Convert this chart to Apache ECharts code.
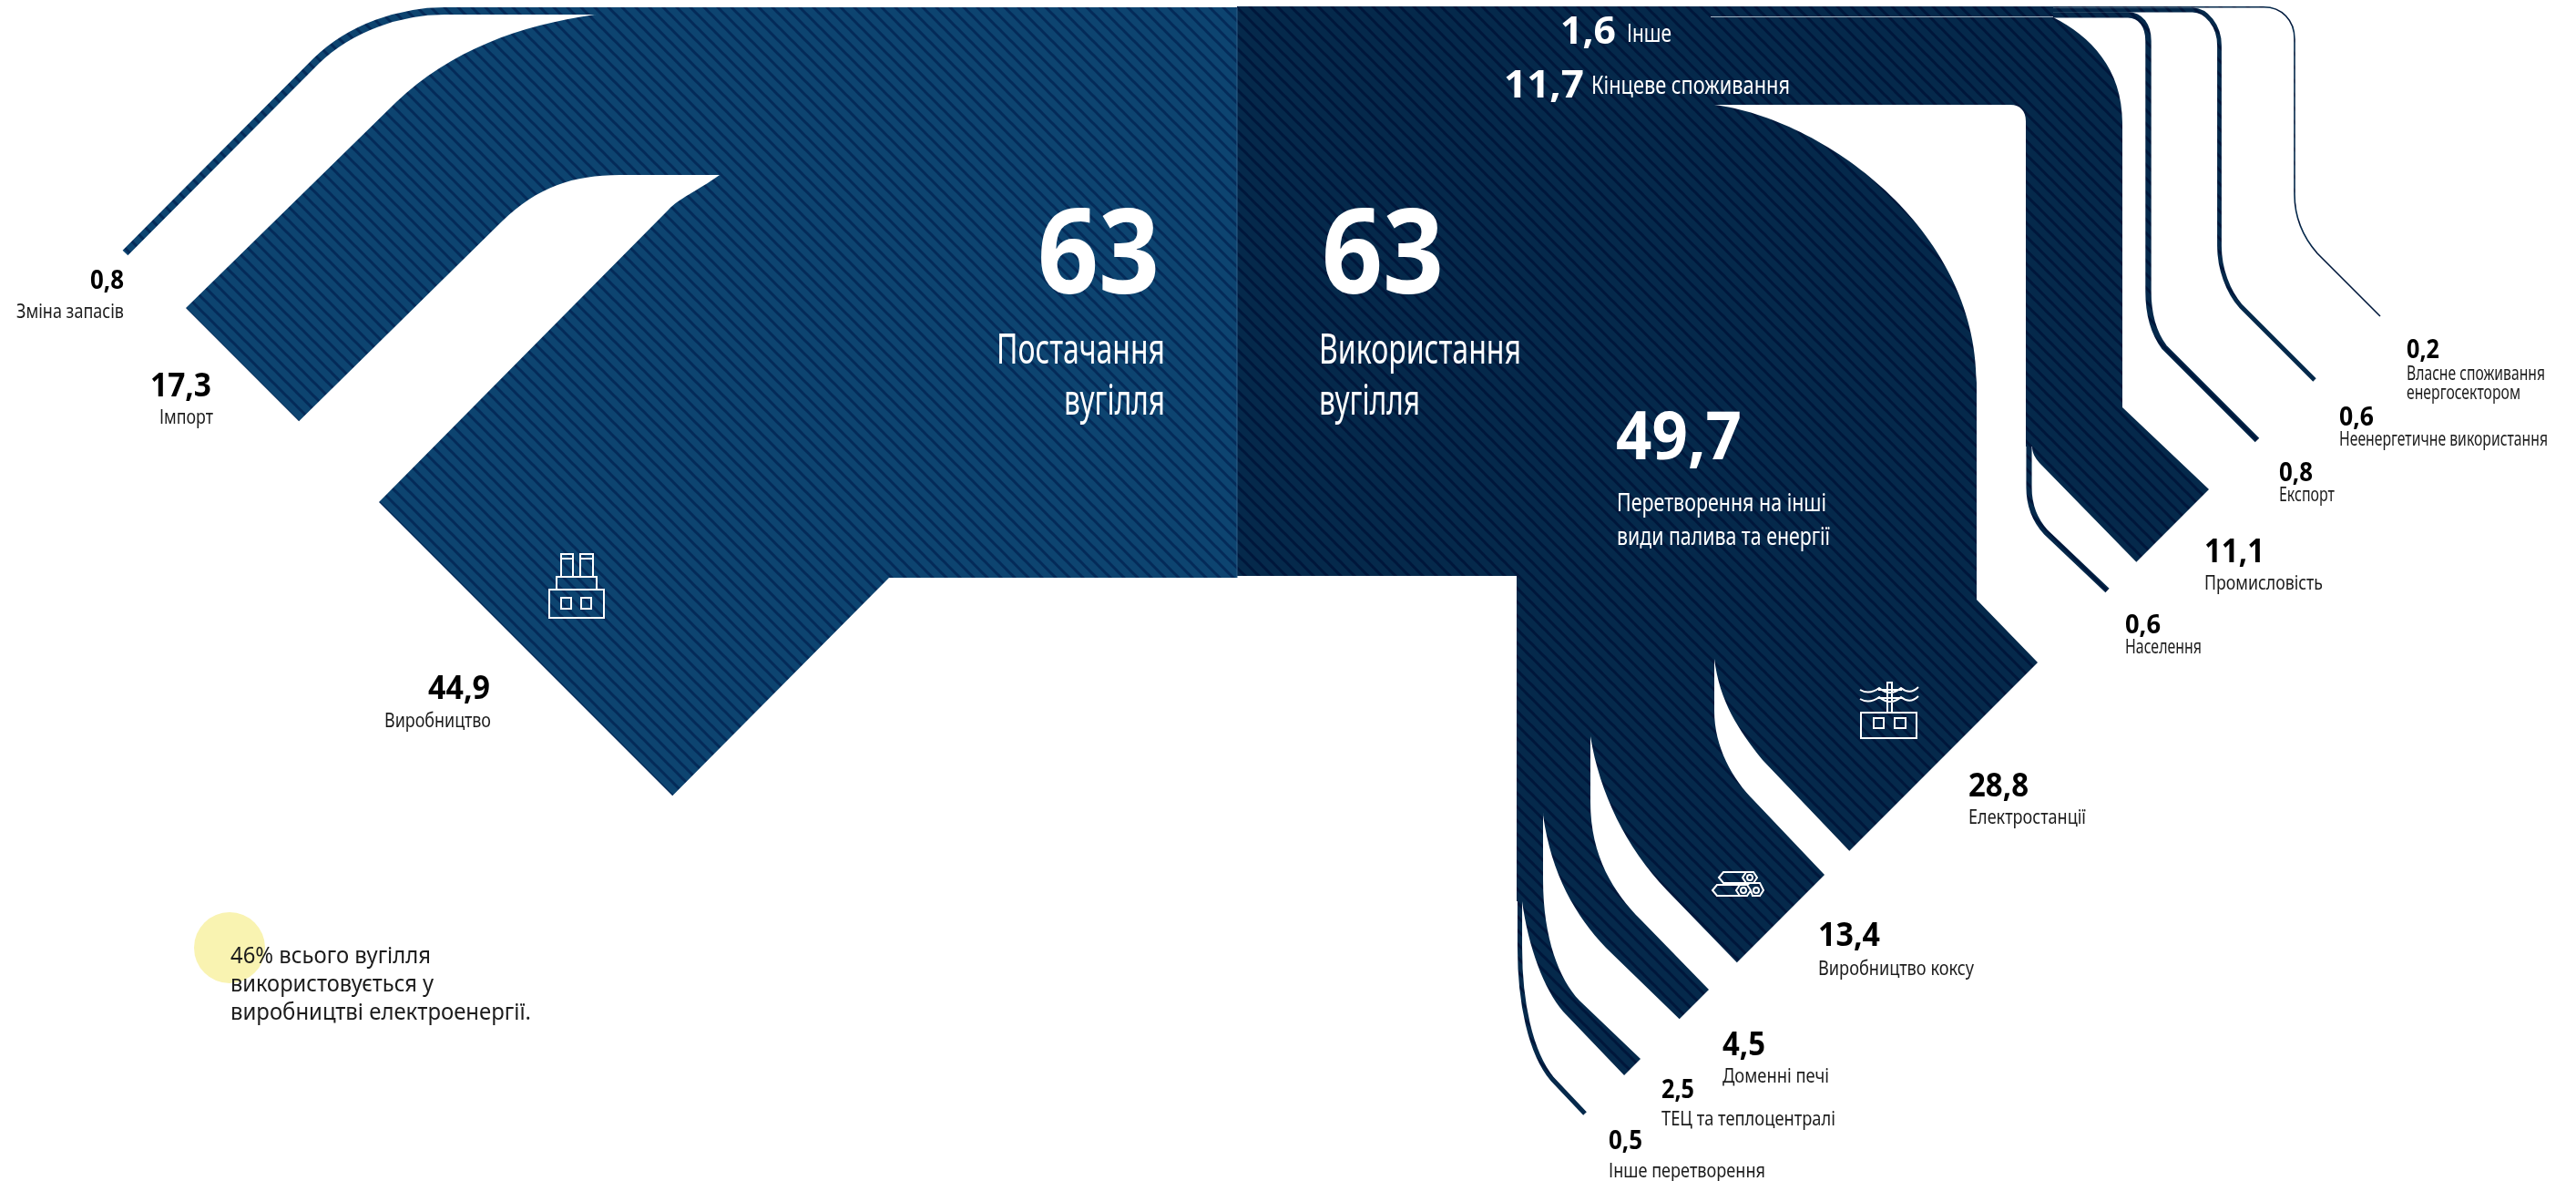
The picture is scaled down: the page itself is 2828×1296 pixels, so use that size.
<!DOCTYPE html>
<html>
<head>
<meta charset="utf-8">
<style>html,body{margin:0;padding:0;background:#fff}#c{width:2828px;height:1296px}</style>
<script src="https://cdn.jsdelivr.net/npm/echarts@6/dist/echarts.min.js"></script>
</head>
<body>
<div id="c"></div>
<script>
// ---------- DATA ----------
const totalNames = ['Постачання вугілля', 'Використання вугілля'];
const totalValues = [63, 63];
const supplyNames = ['Зміна запасів', 'Імпорт', 'Виробництво'];
const supplyValues = [0.8, 17.3, 44.9];
const useNames = ['Інше', 'Кінцеве споживання', 'Перетворення на інші види палива та енергії'];
const useValues = [1.6, 11.7, 49.7];
const otherNames = ['Власне споживання енергосектором', 'Неенергетичне використання', 'Експорт'];
const otherValues = [0.2, 0.6, 0.8];
const finalNames = ['Промисловість', 'Населення'];
const finalValues = [11.1, 0.6];
const conversionNames = ['Електростанції', 'Виробництво коксу', 'Доменні печі', 'ТЕЦ та теплоцентралі', 'Інше перетворення'];
const conversionValues = [28.8, 13.4, 4.5, 2.5, 0.5];
const noteLines = ['46% всього вугілля', 'використовується у', 'виробництві електроенергії.'];

// ---------- LAYOUT ----------
const UNIT = 10.15;      // axis units per data unit
const THIN_UNIT = 8;     // the three hair-line flows of "Інше"
const FONT = '"Noto Sans", "Open Sans", sans-serif';
const BLUE = ['#0d4470', '#042a58'];
const NAVY = ['#05294b', '#00163a'];

// Routes of the flows on hidden axes; CAP = butt end whose length comes from the value.
const ROUTES = {
  'Постачання вугілля': {side: 0, path: [['M',653,16],['L',653,8],['L',1358,8],['L',1358,634],['L',976,634],['L',790,192]]},
  'Зміна запасів': {side: 0, line: true, path: [['M',900,12],['L',488,12],['C',440,12,385,30,347,67],['L',137.5,277.5]]},
  'Імпорт': {side: 0, path: [['M',653,16],['C',570,28,495,55,435,112],['L',204,338],['CAP',1,1],['L',551,243],['C',590,205,630,192,680,192],['L',790,192],['L',900,100]]},
  'Виробництво': {side: 0, path: [['M',790,192],['C',765,210,745,218,734,230],['L',416,551],['CAP',1,1],['L',976,634],['L',1000,300]]},

  'Використання вугілля': {side: 1, path: [['M',1358,7],['L',1800,7],['L',1800,500],['L',1665,632],['L',1358,632]]},
  'Інше': {side: 1, path: [['M',1358,7],['L',2254,7],['L',2254,19],['L',1358,19]]},
  'Кінцеве споживання': {side: 1, path: [['M',1358,17],['L',1878,17],['L',1878,19],['L',2254,19],['C',2295,40,2330,75,2330,135],['L',2330,447],['L',2231,490],['L',2224,490],['L',2224,133],['C',2224,122,2218,115,2207,115],['L',1358,115]]},
  'Перетворення на інші види палива та енергії': {side: 1, path: [['M',1358,110],['L',1850,110],['L',1882,115],['C',2000,130,2170,250,2170,420],['L',2170,658],['L',1882,723],['L',1746,808],['L',1694,894],['L',1671,989],['L',1665,989],['L',1665,632],['L',1358,632]]},

  'Власне споживання енергосектором': {side: 1, line: true, thin: true, path: [['M',1900,7.8],['L',2485,7.8],['C',2505,7.8,2519,22,2519,43],['L',2519,213],['C',2519,240,2530,262,2544,278],['L',2613,347]]},
  'Неенергетичне використання': {side: 1, line: true, thin: true, path: [['M',1900,11],['L',2407,11],['C',2422,11,2436.5,28,2436.5,50],['L',2436.5,270],['C',2436.5,295,2446,320,2460,336],['L',2541,417]]},
  'Експорт': {side: 1, line: true, thin: true, path: [['M',1900,16.4],['L',2336,16.4],['C',2350,16.4,2358.5,28,2358.5,45],['L',2358.5,320],['C',2358.5,345,2364,365,2376,381],['L',2478,483]]},

  'Промисловість': {side: 1, path: [['M',2330,447],['L',2425,537],['CAP',-1,1],['L',2239,508],['C',2234,502,2231,497,2231,490],['L',2280,300]]},
  'Населення': {side: 1, line: true, path: [['M',2227.5,300],['L',2227.5,535],['C',2227.5,555,2235,572,2246,584],['L',2313.5,648]]},

  'Електростанції': {side: 1, path: [['M',2170,658],['L',2237,727],['CAP',-1,1],['L',1935,834],['C',1908,800,1888,770,1882,723],['L',1800,500]]},
  'Виробництво коксу': {side: 1, path: [['M',1882,723],['L',1882,780],['C',1882,820,1902,855,1926,879],['L',2003,960],['CAP',-1,1],['L',1830,977],['C',1785,930,1756,870,1746,808],['L',1800,500]]},
  'Доменні печі': {side: 1, path: [['M',1746,808],['L',1746,880],['C',1746,940,1772,980,1801,1009],['L',1876,1086],['CAP',-1,1],['L',1763,1040],['C',1730,1005,1703,960,1694,894],['L',1800,500]]},
  'ТЕЦ та теплоцентралі': {side: 1, path: [['M',1694,894],['L',1694,965],['C',1694,1030,1712,1075,1734,1098],['L',1801,1162],['CAP',-1,1],['L',1716,1110],['C',1695,1085,1678,1040,1671,989],['L',1665,880]]},
  'Інше перетворення': {side: 1, line: true, path: [['M',1668.5,600],['L',1668.5,1040],['C',1668.5,1100,1680,1155,1704,1184],['L',1740,1222]]}
};

// Text boxes: [x, baseline, font size, fitted width]
const L = 'left', R = 'right';
const NUM = {
  'Зміна запасів': [136, 317, 28, 37, R], 'Імпорт': [232, 435, 35, 67, R], 'Виробництво': [538, 767, 35, 68, R],
  'Постачання вугілля': [1273, 320, 129, 134, R], 'Використання вугілля': [1451, 320, 129, 134, L],
  'Інше': [1713, 47, 42, 61, L], 'Кінцеве споживання': [1651, 106, 42, 88, L],
  'Перетворення на інші види палива та енергії': [1774, 503, 74, 138, L],
  'Власне споживання енергосектором': [2642, 393, 28, 36, L], 'Неенергетичне використання': [2568, 467, 28, 38, L],
  'Експорт': [2502, 528, 28, 37, L], 'Промисловість': [2420, 617, 35, 66, L], 'Населення': [2333, 695, 28, 39, L],
  'Електростанції': [2161, 874, 35, 66, L], 'Виробництво коксу': [1996, 1038, 35, 68, L], 'Доменні печі': [1891, 1158, 35, 47, L],
  'ТЕЦ та теплоцентралі': [1824, 1205, 28, 36, L], 'Інше перетворення': [1766, 1261, 28, 37, L]
};
// lines of a caption: [text, x, baseline, size, width, align, colour]
const INK = '#1c1c1c', WHITE = '#ffffff';
const CAPTIONS = [
  ['Зміна запасів', 136, 349, 21, 118, R, INK], ['Імпорт', 234, 465, 21, 59, R, INK], ['Виробництво', 539, 798, 21, 117, R, INK],
  ['Постачання', 1279, 398, 45, 185, R, WHITE], ['вугілля', 1279, 454, 45, 111, R, WHITE],
  ['Використання', 1448, 398, 45, 222, L, WHITE], ['вугілля', 1448, 454, 45, 111, L, WHITE],
  ['Інше', 1786, 46, 27, 49, L, WHITE], ['Кінцеве споживання', 1747, 103, 27, 218, L, WHITE],
  ['Перетворення на інші', 1775, 561, 28, 230, L, WHITE], ['види палива та енергії', 1775, 598, 28, 234, L, WHITE],
  ['Власне споживання', 2642, 417, 21, 152, L, INK], ['енергосектором', 2642, 438, 21, 125, L, INK],
  ['Неенергетичне використання', 2568, 489, 21, 229, L, INK], ['Експорт', 2502, 550, 21, 61, L, INK],
  ['Промисловість', 2420, 647, 21, 130, L, INK], ['Населення', 2333, 717, 21, 84, L, INK],
  ['Електростанції', 2161, 904, 21, 129, L, INK], ['Виробництво коксу', 1996, 1070, 21, 171, L, INK],
  ['Доменні печі', 1891, 1188, 21, 117, L, INK], ['ТЕЦ та теплоцентралі', 1824, 1235, 21, 191, L, INK],
  ['Інше перетворення', 1766, 1292, 21, 172, L, INK],
  [noteLines[0], 253, 1057, 25, 220, L, INK], [noteLines[1], 253, 1088, 25, 223, L, INK], [noteLines[2], 253, 1119, 25, 330, L, INK]
];

// ---------- HELPERS ----------
function stripes(pair) {
  const s = 15, c = document.createElement('canvas');
  c.width = c.height = s;
  const x = c.getContext('2d');
  x.fillStyle = pair[0]; x.fillRect(0, 0, s, s);
  x.strokeStyle = pair[1]; x.lineWidth = 3;
  [-s, 0, s].forEach(o => { x.beginPath(); x.moveTo(o - 2, -2); x.lineTo(o + s + 2, s + 2); x.stroke(); });
  return c;
}
const PATTERNS = [
  {image: stripes(BLUE), repeat: 'repeat'},
  {image: stripes(NAVY), repeat: 'repeat'}
];
const fmt = v => String(v).replace('.', ',');
const measure = document.createElement('canvas').getContext('2d');
function fitScale(text, font, width) {
  measure.font = font;
  return width / measure.measureText(text).width;
}

const allNames = totalNames.concat(useNames, supplyNames, otherNames, finalNames, conversionNames);
const allValues = totalValues.concat(useValues, supplyValues, otherValues, finalValues, conversionValues);

function buildPath(route, api, thickness) {
  let d = '', last = null;
  route.path.forEach(seg => {
    if (seg[0] === 'CAP') {
      const n = Math.sqrt(2);
      const p = [last[0] + seg[1] * thickness / n, last[1] + seg[2] * thickness / n];
      d += 'L' + p[0] + ' ' + p[1] + ' ';
      last = p;
      return;
    }
    let s = seg[0];
    for (let i = 1; i < seg.length; i += 2) {
      last = api.coord([seg[i], seg[i + 1]]);
      s += last[0] + ' ' + last[1] + ' ';
    }
    d += s;
  });
  return route.line ? d : d + 'Z';
}

function renderFlow(params, api) {
  const name = allNames[api.value(1)];
  const route = ROUTES[name];
  const k = route.thin ? THIN_UNIT : UNIT;
  const thickness = api.size([api.value(0) * k, 0])[0];
  const d = buildPath(route, api, thickness);
  const pat = PATTERNS[route.side];
  return {
    type: 'path',
    shape: {pathData: d},
    style: route.line
      ? {fill: null, stroke: pat, lineWidth: thickness, lineCap: 'butt', lineJoin: 'round'}
      : {fill: pat, stroke: null}
  };
}

// text rows: value numbers from the data + captions
const numberRows = allNames.map((n, i) => {
  const b = NUM[n];
  return [b[0], b[1], b[2], b[3], b[4], fmt(allValues[i]), 700,
    (n === 'Інше' || n === 'Кінцеве споживання' || totalNames.includes(n) || n.startsWith('Перетворення')) ? WHITE : '#000000'];
});
const captionRows = CAPTIONS.map(c => [c[1], c[2], c[3], c[4], c[5], c[0], 400, c[6]]);
const textRows = numberRows.concat(captionRows);

function renderText(params, api) {
  const r = textRows[params.dataIndex];
  const p = api.coord([r[0], r[1]]);
  const font = r[6] + ' ' + r[2] + 'px ' + FONT;
  const sx = fitScale(r[5], font, r[3]);
  return {
    type: 'text',
    x: p[0],
    y: p[1] - r[2] * 0.272,
    scaleX: sx,
    z2: 20,
    style: {text: r[5], font: font, fill: r[7], align: r[4], verticalAlign: 'middle'}
  };
}

// ---------- ICONS (pictograms only) ----------
const ICON_PATHS = [
  // factory
  'M616 633V608H629V633M616 613H629M637 633V608H651V633M637 613H651M611 647V633H655V647M603 647H663V678H603ZM616 656H627V668H616ZM638 656H649V668H638Z',
  // power station
  'M2043 782H2104V810H2043ZM2057 788H2068V799H2057ZM2080 788H2092V799H2080ZM2072 782V749H2077V782M2062 757H2088M2062 766H2088M2042 757Q2052 763 2063 755Q2075 765 2087 755Q2097 763 2106 754M2042 767Q2052 773 2063 765Q2075 775 2087 765Q2097 773 2106 764',
  // pipes
  'M1887 963L1892 957H1917L1913 963L1917 969H1892ZM1917 957H1925L1929 963L1925 969H1917M1880 977L1885 971H1910L1906 977L1910 983H1885ZM1910 971H1918L1922 977L1918 983H1910M1918 971L1921 969H1932L1936 977L1932 983H1924L1922 977',
  // pipe ends
  'M1924 963a3 3 0 1 0 -6 0a3 3 0 1 0 6 0M1917 977a3 3 0 1 0 -6 0a3 3 0 1 0 6 0M1931 977a3 3 0 1 0 -6 0a3 3 0 1 0 6 0'
];

// ---------- CHART ----------
const chart = echarts.init(document.getElementById('c'), null, {renderer: 'canvas'});
chart.setOption({
  animation: false,
  backgroundColor: '#ffffff',
  grid: {left: 0, right: 0, top: 0, bottom: 0},
  xAxis: {type: 'value', min: 0, max: 2828, show: false},
  yAxis: {type: 'value', min: 0, max: 1296, inverse: true, show: false},
  series: [
    {
      type: 'custom', coordinateSystem: 'cartesian2d', clip: false, silent: true, z: 2,
      renderItem: renderFlow,
      encode: {x: 0, y: 1},
      data: allValues.map((v, i) => [v, i])
    },
    {
      type: 'custom', coordinateSystem: 'cartesian2d', clip: false, silent: true, z: 4,
      renderItem: (params) => ({
        type: 'path',
        shape: {pathData: ICON_PATHS[params.dataIndex]},
        style: {stroke: '#ffffff', fill: null, lineWidth: 2}
      }),
      data: ICON_PATHS.map((d, i) => [i, i])
    },
    {
      type: 'custom', coordinateSystem: 'cartesian2d', clip: false, silent: true, z: 5,
      renderItem: renderText,
      data: textRows.map(r => [r[0], r[1]])
    }
  ],
  graphic: {
    elements: [
      {type: 'circle', z: 1, shape: {cx: 252, cy: 1040, r: 39}, style: {fill: '#f9f3b1'}},
      {type: 'line', z: 6, shape: {x1: 1878, y1: 18.5, x2: 2254, y2: 18.5}, style: {stroke: '#a9b8c6', lineWidth: 1}},
      {type: 'line', z: 6, shape: {x1: 1358, y1: 8, x2: 1358, y2: 634}, style: {stroke: '#2e5f88', lineWidth: 1}}
    ]
  }
});
</script>
</body>
</html>
